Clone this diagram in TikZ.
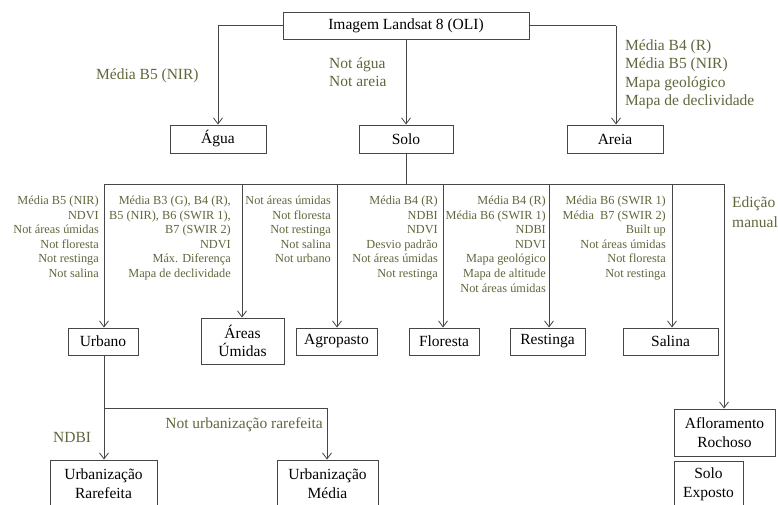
\documentclass[tikz,border=0pt]{standalone}
\usepackage{fontspec}
\setmainfont{Liberation Serif}
\usetikzlibrary{arrows.meta}
\definecolor{lbl}{RGB}{98,102,60}
\definecolor{ln}{RGB}{70,70,70}
\tikzset{
  box/.style={draw=ln, line width=1pt, fill=white, inner sep=0pt, align=center,
    font=\fontsize{15.5}{18.5}\selectfont},
  conn/.style={draw=ln, line width=1pt},
  arr/.style={conn, -{Straight Barb[length=6pt,width=9pt,line width=0.8pt]}},
  biglbl/.style={text=lbl, inner sep=0pt, align=left, anchor=base west,
    font=\fontsize{15.5}{18.5}\selectfont},
  smlbl/.style={text=lbl, inner sep=0pt, align=right, anchor=base east,
    font=\fontsize{12.3}{14.6}\selectfont},
}
\begin{document}
\begin{tikzpicture}[x=1pt,y=-1pt]
\useasboundingbox (0,0) rectangle (778,504);
\clip (0,0) rectangle (778,504);
\fill[white] (0,0) rectangle (778,504);

% boxes
\node[box, minimum width=246pt, minimum height=27pt] (top) at (406,25.5) {Imagem Landsat 8 (OLI)};
\node[box, minimum width=96pt, minimum height=28pt] (agua) at (218,139) {Água};
\node[box, minimum width=94pt, minimum height=28pt] (solo) at (406,139) {Solo};
\node[box, minimum width=96pt, minimum height=28pt] (areia) at (615,139) {Areia};

\node[box, minimum width=70pt, minimum height=27pt] (urbano) at (103,341.5) {Urbano};
\node[box, minimum width=83pt, minimum height=46pt] (umidas) at (242.5,341) {Áreas\\Úmidas};
\node[box, minimum width=81pt, minimum height=27pt] (agro) at (336.5,341.5) {Agropasto};
\node[box, minimum width=70pt, minimum height=27pt] (flor) at (444,341.5) {Floresta};
\node[box, minimum width=75pt, minimum height=27pt] (rest) at (547.5,341.5) {Restinga};
\node[box, minimum width=95pt, minimum height=27pt] (salina) at (670.5,341.5) {Salina};
\node[box, minimum width=101pt, minimum height=47pt] (aflor) at (724.5,432.5) {Afloramento\\Rochoso};
\node[box, minimum width=69pt, minimum height=47pt] (soloexp) at (708.5,484.5) {Solo\\Exposto};
\node[box, minimum width=107pt, minimum height=47pt] (rare) at (103.5,483.5) {Urbanização\\Rarefeita};
\node[box, minimum width=101pt, minimum height=47pt] (media) at (327.5,483.5) {Urbanização\\Média};

% coordinates
\coordinate (cA) at (218,25.5);
\coordinate (cR) at (616,25.5);
\coordinate (bus) at (406,184);
\coordinate (bL) at (104,184);
\coordinate (bR) at (724,184);
\coordinate (uSplit) at (104,408);
\coordinate (uRight) at (327,408);

% top level connectors
\draw[conn] (top.west) -- (cA);
\draw[arr] (cA) -- (agua.north);
\draw[arr] (top.south) -- (solo.north);
\draw[conn] (top.east) -- (cR);
\draw[arr] (cR) -- (cR |- areia.north);

% bus
\draw[conn] (solo.south) -- (bus);
\draw[conn] (bL) -- (bR);
\draw[arr] (bL) -- (bL |- urbano.north);
\draw[arr] (242,184) coordinate (b2) -- (b2 |- umidas.north);
\draw[arr] (337,184) coordinate (b3) -- (b3 |- agro.north);
\draw[arr] (443,184) coordinate (b4) -- (b4 |- flor.north);
\draw[arr] (549,184) coordinate (b5) -- (b5 |- rest.north);
\draw[arr] (672,184) coordinate (b6) -- (b6 |- salina.north);
\draw[arr] (bR) -- (bR |- aflor.north);

% urbano split
\draw[arr] (urbano.south -| bL) -- (bL |- rare.north);
\draw[conn] (uSplit) -- (uRight);
\draw[arr] (uRight) -- (uRight |- media.north);

% top labels (anchor = baseline of last line)
\node[biglbl] (l1) at (96,79) {Média B5 (NIR)};
\node[biglbl] (l2) at (329,86.5) {Not água\\Not areia};
\node[biglbl] (l3) at (625,105.5) {Média B4 (R)\\Média B5 (NIR)\\Mapa geológico\\Mapa de declividade};
\node[biglbl, font=\fontsize{15.5}{20}\selectfont] (l4) at (732,227) {Edição\\manual};

% small label blocks (anchor = baseline of last line)
\node[smlbl] (s1) at (99,277.5) {Média B5 (NIR)\\NDVI\\Not áreas úmidas\\Not floresta\\Not restinga\\Not salina};
\node[smlbl] (s2) at (231,277.5) {Média B3 (G), B4 (R),\\B5 (NIR), B6 (SWIR 1),\\B7 (SWIR 2)\\NDVI\\Máx. Diferença\\Mapa de declividade};
\node[smlbl] (s3) at (331,262.9) {Not áreas úmidas\\Not floresta\\Not restinga\\Not salina\\Not urbano};
\node[smlbl] (s4) at (438,277.5) {Média B4 (R)\\NDBI\\NDVI\\Desvio padrão\\Not áreas úmidas\\Not restinga};
\node[smlbl] (s5) at (546,292.1) {Média B4 (R)\\Média B6 (SWIR 1)\\NDBI\\NDVI\\Mapa geológico\\Mapa de altitude\\Not áreas úmidas};
\node[smlbl] (s6) at (666,277.5) {Média B6 (SWIR 1)\\Média\ \ B7 (SWIR 2)\\Built up\\Not áreas úmidas\\Not floresta\\Not restinga};

% bottom labels
\node[biglbl] (l5) at (53,442) {NDBI};
\node[biglbl, anchor=base east] (l6) at (323,428) {Not urbanização rarefeita};
\end{tikzpicture}
\end{document}
